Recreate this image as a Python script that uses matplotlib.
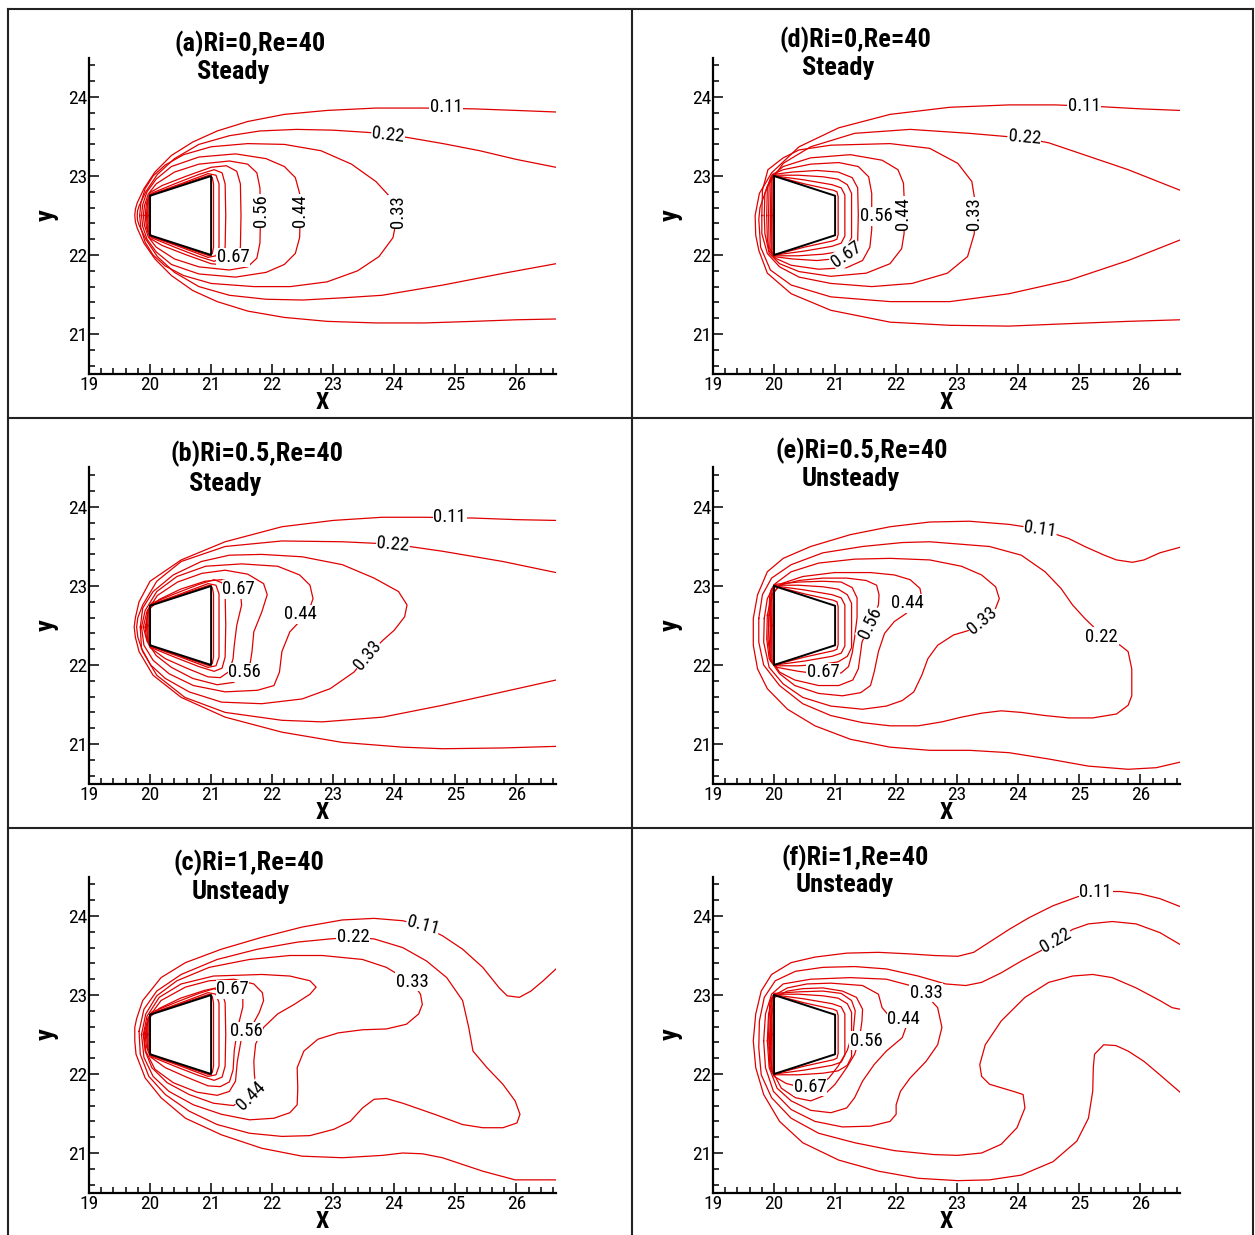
"""Six-panel isotherm comparison (Ri = 0, 0.5, 1 at Re = 40) for two body orientations."""

import matplotlib

matplotlib.use("Agg")
import matplotlib.pyplot as plt
from matplotlib import font_manager as fm
from matplotlib.lines import Line2D
from matplotlib.ticker import MultipleLocator

# prefer a narrow sans if one is installed (the original uses a condensed face)
_installed = {f.name for f in fm.fontManager.ttflist}
_narrow = [n for n in ("Liberation Sans Narrow", "Arial Narrow", "Roboto Condensed") if n in _installed]
plt.rcParams["font.family"] = _narrow + ["Liberation Sans", "DejaVu Sans"]
NARROW = bool(_narrow)

RED = "#e00000"
LABEL_SIZE = 13.5 if NARROW else 12.5
TICK_SIZE = 14 if NARROW else 13
TITLE_SIZE = 19 if NARROW else 17

# ─── body outlines ───────────────────────────────────────────────────────────
BODY_L_X = [20.0, 21.0, 21.0, 20.0, 20.0]      # narrow face upstream (a, b, c)
BODY_L_Y = [22.75, 23.0, 22.0, 22.25, 22.75]
BODY_R_X = [20.0, 21.0, 21.0, 20.0, 20.0]      # wide face upstream (d, e, f)
BODY_R_Y = [23.0, 22.75, 22.25, 22.0, 23.0]

# ─── innermost isotherms hugging the body (shared within a column) ──────────
LEFT_INNER = [
    [(19.94, 22.5), (19.96, 22.68), (20.02, 22.78), (20.4, 22.9), (20.8, 23.02), (21.05, 23.08),
     (21.18, 23.04), (21.23, 22.9), (21.24, 22.5), (21.23, 22.1), (21.18, 21.96), (21.05, 21.92),
     (20.8, 21.98), (20.4, 22.1), (20.02, 22.22), (19.96, 22.32), (19.94, 22.5)],
    [(19.96, 22.5), (19.97, 22.7), (20.03, 22.77), (20.5, 22.9), (20.95, 23.03), (21.08, 23.01),
     (21.13, 22.9), (21.13, 22.1), (21.08, 21.99), (20.95, 21.97), (20.5, 22.1), (20.03, 22.23),
     (19.97, 22.3), (19.96, 22.5)],
    [(19.98, 22.5), (19.985, 22.72), (20.03, 22.765), (20.5, 22.89), (20.97, 23.01), (21.02, 22.98),
     (21.04, 22.9), (21.04, 22.1), (21.02, 22.02), (20.97, 21.99), (20.5, 22.11), (20.03, 22.235),
     (19.985, 22.28), (19.98, 22.5)],
]
RIGHT_INNER = [
    [(19.94, 22.5), (19.95, 22.95), (20.01, 23.01), (20.4, 23.01), (20.8, 22.99), (21.05, 22.96),
     (21.2, 22.89), (21.27, 22.78), (21.27, 22.22), (21.2, 22.11), (21.05, 22.04), (20.8, 22.01),
     (20.4, 21.99), (20.01, 21.99), (19.95, 22.05), (19.94, 22.5)],
    [(19.96, 22.5), (19.965, 22.97), (20.02, 23.0), (20.5, 22.95), (20.95, 22.89), (21.1, 22.85),
     (21.16, 22.76), (21.16, 22.24), (21.1, 22.15), (20.95, 22.11), (20.5, 22.05), (20.02, 22.0),
     (19.965, 22.03), (19.96, 22.5)],
    [(19.98, 22.5), (19.985, 22.98), (20.03, 22.995), (20.5, 22.9), (20.97, 22.82), (21.03, 22.8),
     (21.05, 22.74), (21.05, 22.26), (21.03, 22.2), (20.97, 22.18), (20.5, 22.1), (20.03, 22.005),
     (19.985, 22.02), (19.98, 22.5)],
]

# ─── (a) Ri=0 ────────────────────────────────────────────────────────────────
A_LINES = [
    [(26.65, 23.81), (26.0, 23.83), (25.3, 23.85), (24.5, 23.86), (23.7, 23.86), (22.9, 23.83),
     (22.2, 23.78), (21.6, 23.69), (21.1, 23.57), (20.7, 23.43), (20.35, 23.26), (20.08, 23.05),
     (19.9, 22.84), (19.79, 22.66), (19.76, 22.58), (19.75, 22.5), (19.76, 22.42), (19.79, 22.34),
     (19.9, 22.15), (20.08, 21.95), (20.35, 21.74), (20.7, 21.55), (21.1, 21.41), (21.6, 21.29),
     (22.2, 21.21), (22.9, 21.16), (23.7, 21.14), (24.5, 21.14), (25.3, 21.16), (26.0, 21.18),
     (26.65, 21.19)],
    [(26.65, 23.11), (26.0, 23.21), (25.4, 23.32), (24.8, 23.41), (24.2, 23.49), (23.6, 23.55),
     (23.0, 23.58), (22.4, 23.59), (21.8, 23.57), (21.3, 23.51), (20.8, 23.40), (20.4, 23.22),
     (20.12, 23.02), (19.93, 22.8), (19.82, 22.62), (19.795, 22.56), (19.79, 22.5), (19.795, 22.44),
     (19.82, 22.38), (19.93, 22.2), (20.12, 21.98), (20.4, 21.78), (20.8, 21.6), (21.3, 21.49),
     (21.9, 21.44), (22.5, 21.43), (23.2, 21.46), (23.8, 21.49), (24.8, 21.62), (25.8, 21.77),
     (26.65, 21.89)],
    [(19.83, 22.50), (19.85, 22.66), (19.92, 22.84), (20.05, 23.0), (20.25, 23.14), (20.55, 23.27),
     (21.0, 23.37), (21.6, 23.41), (22.2, 23.40), (22.8, 23.32), (23.3, 23.15), (23.7, 22.93),
     (23.95, 22.72), (24.05, 22.50), (23.98, 22.22), (23.75, 21.98), (23.4, 21.8), (22.9, 21.66),
     (22.3, 21.6), (21.7, 21.6), (21.0, 21.64), (20.55, 21.74), (20.25, 21.86), (20.05, 22.0),
     (19.92, 22.16), (19.85, 22.34), (19.83, 22.50)],
    [(19.86, 22.50), (19.88, 22.64), (19.95, 22.80), (20.1, 22.96), (20.35, 23.12), (20.8, 23.24),
     (21.4, 23.28), (21.9, 23.22), (22.2, 23.12), (22.38, 22.98), (22.45, 22.78), (22.46, 22.50),
     (22.45, 22.22), (22.38, 22.02), (22.2, 21.88), (21.9, 21.78), (21.4, 21.72), (20.8, 21.76),
     (20.35, 21.88), (20.1, 22.04), (19.95, 22.20), (19.88, 22.36), (19.86, 22.50)],
    [(19.89, 22.50), (19.91, 22.63), (19.97, 22.77), (20.1, 22.9), (20.4, 23.05), (20.8, 23.15),
     (21.3, 23.19), (21.6, 23.15), (21.75, 23.04), (21.80, 22.85), (21.81, 22.50), (21.80, 22.15),
     (21.75, 21.96), (21.6, 21.85), (21.3, 21.81), (20.8, 21.85), (20.4, 21.95), (20.1, 22.1),
     (19.97, 22.23), (19.91, 22.37), (19.89, 22.50)],
    [(19.92, 22.50), (19.94, 22.65), (20.0, 22.79), (20.2, 22.88), (20.6, 23.0), (21.0, 23.11),
     (21.25, 23.13), (21.42, 23.06), (21.48, 22.9), (21.49, 22.5), (21.48, 22.1), (21.42, 21.94),
     (21.25, 21.87), (21.0, 21.89), (20.6, 22.0), (20.2, 22.12), (20.0, 22.21), (19.94, 22.35),
     (19.92, 22.50)],
]
A_LABELS = [("0.11", 24.85, 23.87, 0), ("0.22", 23.9, 23.52, -7), ("0.33", 24.06, 22.55, 90),
            ("0.44", 22.46, 22.56, 90), ("0.56", 21.81, 22.56, 90), ("0.67", 21.36, 21.97, 0)]

# ─── (b) Ri=0.5 ──────────────────────────────────────────────────────────────
B_LINES = [
    [(26.65, 23.83), (26.0, 23.84), (25.3, 23.86), (24.5, 23.87), (23.8, 23.87), (23.0, 23.83),
     (22.16, 23.75), (21.23, 23.56), (20.51, 23.33), (20.0, 23.06), (19.82, 22.80), (19.76, 22.6),
     (19.74, 22.48), (19.76, 22.35), (19.82, 22.17), (20.05, 21.87), (20.51, 21.59), (21.23, 21.34),
     (22.16, 21.15), (23.15, 21.02), (24.14, 20.96), (24.79, 20.94), (25.78, 20.95), (26.65, 20.97)],
    [(26.65, 23.17), (25.78, 23.31), (24.79, 23.44), (23.98, 23.53), (23.15, 23.56), (22.16, 23.57),
     (21.23, 23.50), (20.51, 23.31), (20.11, 23.06), (19.88, 22.76), (19.80, 22.6), (19.78, 22.48),
     (19.80, 22.35), (19.88, 22.17), (20.11, 21.87), (20.57, 21.59), (21.23, 21.40), (22.16, 21.30),
     (22.82, 21.28), (23.81, 21.34), (24.79, 21.49), (25.78, 21.66), (26.65, 21.81)],
    [(19.84, 22.48), (19.88, 22.72), (20.05, 22.93), (20.38, 23.14), (20.84, 23.31), (21.30, 23.39),
     (21.83, 23.40), (22.49, 23.37), (23.15, 23.27), (23.67, 23.10), (24.07, 22.93), (24.21, 22.76),
     (24.17, 22.61), (24.0, 22.44), (23.81, 22.31), (23.57, 22.12), (23.34, 21.91), (22.95, 21.70),
     (22.49, 21.57), (21.83, 21.51), (21.17, 21.53), (20.64, 21.66), (20.25, 21.83), (20.01, 22.0),
     (19.86, 22.21), (19.84, 22.48)],
    [(19.86, 22.48), (19.92, 22.69), (20.11, 22.93), (20.44, 23.12), (20.91, 23.25), (21.5, 23.28),
     (22.09, 23.25), (22.45, 23.14), (22.62, 23.01), (22.67, 22.84), (22.6, 22.68), (22.45, 22.55),
     (22.29, 22.42), (22.16, 22.17), (22.12, 21.91), (22.03, 21.74), (21.76, 21.68), (21.23, 21.66),
     (20.71, 21.74), (20.31, 21.89), (20.05, 22.06), (19.90, 22.25), (19.86, 22.48)],
    [(19.89, 22.48), (19.95, 22.68), (20.12, 22.88), (20.45, 23.05), (20.85, 23.16), (21.23, 23.20),
     (21.6, 23.15), (21.86, 23.03), (21.92, 22.89), (21.83, 22.67), (21.70, 22.42), (21.67, 22.17),
     (21.64, 22.02), (21.55, 21.88), (21.37, 21.78), (21.1, 21.75), (20.7, 21.83), (20.35, 21.97),
     (20.1, 22.12), (19.95, 22.3), (19.89, 22.48)],
    [(19.92, 22.48), (19.98, 22.7), (20.15, 22.83), (20.5, 22.96), (20.9, 23.06), (21.17, 23.08),
     (21.35, 23.05), (21.48, 22.92), (21.50, 22.76), (21.42, 22.5), (21.38, 22.25), (21.36, 22.08),
     (21.3, 21.92), (21.15, 21.84), (20.95, 21.85), (20.6, 21.96), (20.25, 22.08), (20.0, 22.22),
     (19.94, 22.35), (19.92, 22.48)],
]
B_LABELS = [("0.11", 24.91, 23.87, 0), ("0.22", 23.98, 23.53, -5), ("0.33", 23.57, 22.12, 50),
            ("0.44", 22.47, 22.64, 0), ("0.56", 21.55, 21.91, 0), ("0.67", 21.45, 22.96, 0)]

# ─── (c) Ri=1 ────────────────────────────────────────────────────────────────
C_LINES = [
    [(26.65, 23.33), (26.44, 23.18), (26.24, 23.05), (26.05, 22.97), (25.85, 22.99), (25.72, 23.09),
     (25.45, 23.35), (25.12, 23.58), (24.79, 23.75), (24.46, 23.88), (24.14, 23.94), (23.67, 23.97),
     (23.15, 23.95), (22.49, 23.86), (21.83, 23.73), (21.17, 23.58), (20.58, 23.41), (20.18, 23.22),
     (19.88, 22.93), (19.78, 22.7), (19.75, 22.59), (19.75, 22.42), (19.77, 22.25), (19.92, 21.95),
     (20.18, 21.70), (20.58, 21.44), (21.17, 21.23), (21.83, 21.06), (22.49, 20.96), (23.15, 20.94),
     (23.81, 20.97), (24.14, 21.0), (24.46, 20.99), (24.79, 20.94), (25.45, 20.77), (25.98, 20.66),
     (26.65, 20.66)],
    [(19.82, 22.54), (19.90, 22.82), (20.11, 23.05), (20.51, 23.26), (21.10, 23.45), (21.76, 23.58),
     (22.42, 23.67), (22.95, 23.71), (23.33, 23.73), (23.67, 23.71), (24.14, 23.60), (24.53, 23.43),
     (24.86, 23.22), (25.12, 22.93), (25.22, 22.59), (25.29, 22.29), (25.52, 22.08), (25.78, 21.87),
     (25.98, 21.66), (26.06, 21.49), (26.01, 21.38), (25.78, 21.32), (25.45, 21.32), (25.12, 21.36),
     (24.66, 21.49), (24.14, 21.63), (23.87, 21.69), (23.67, 21.68), (23.48, 21.57), (23.28, 21.40),
     (23.01, 21.30), (22.62, 21.22), (22.16, 21.21), (21.63, 21.25), (21.10, 21.36), (20.64, 21.53),
     (20.25, 21.74), (19.98, 21.97), (19.84, 22.25), (19.82, 22.54)],
    [(19.86, 22.50), (19.93, 22.76), (20.11, 22.99), (20.44, 23.18), (20.97, 23.35), (21.63, 23.45),
     (22.29, 23.50), (22.82, 23.50), (23.48, 23.45), (23.87, 23.35), (24.15, 23.22), (24.35, 23.10),
     (24.43, 23.01), (24.46, 22.88), (24.40, 22.76), (24.20, 22.63), (23.87, 22.57), (23.48, 22.56),
     (23.08, 22.52), (22.75, 22.44), (22.52, 22.29), (22.41, 22.08), (22.42, 21.82), (22.41, 21.61),
     (22.29, 21.51), (22.03, 21.44), (21.63, 21.42), (21.17, 21.49), (20.71, 21.61), (20.31, 21.78),
     (20.05, 21.97), (19.90, 22.21), (19.86, 22.50)],
    [(19.89, 22.50), (19.95, 22.73), (20.15, 22.97), (20.51, 23.14), (21.04, 23.24), (21.83, 23.26),
     (22.29, 23.24), (22.62, 23.18), (22.72, 23.10), (22.62, 23.01), (22.36, 22.88), (22.09, 22.76),
     (21.86, 22.59), (21.73, 22.38), (21.70, 22.16), (21.71, 21.99), (21.73, 21.87), (21.55, 21.72),
     (21.37, 21.60), (21.04, 21.63), (20.64, 21.74), (20.28, 21.89), (20.03, 22.08), (19.92, 22.29),
     (19.89, 22.50)],
    [(19.90, 22.50), (19.97, 22.71), (20.18, 22.93), (20.58, 23.10), (20.97, 23.18), (21.37, 23.20),
     (21.70, 23.14), (21.84, 23.03), (21.86, 22.93), (21.79, 22.78), (21.70, 22.65), (21.49, 22.42),
     (21.43, 22.16), (21.40, 21.91), (21.30, 21.78), (21.10, 21.73), (20.77, 21.77), (20.38, 21.89),
     (20.08, 22.06), (19.93, 22.29), (19.90, 22.50)],
    [(19.92, 22.5), (19.97, 22.7), (20.15, 22.83), (20.5, 22.96), (20.9, 23.06), (21.15, 23.1),
     (21.4, 23.08), (21.52, 23.0), (21.52, 22.85), (21.44, 22.6), (21.38, 22.3), (21.36, 22.05),
     (21.3, 21.9), (21.15, 21.84), (20.95, 21.85), (20.6, 21.96), (20.25, 22.08), (20.0, 22.22),
     (19.94, 22.35), (19.92, 22.5)],
]
C_LABELS = [("0.11", 24.47, 23.88, -15), ("0.22", 23.33, 23.73, 0), ("0.33", 24.29, 23.17, 0),
            ("0.44", 21.66, 21.72, 45), ("0.56", 21.58, 22.54, 0), ("0.67", 21.35, 23.07, 0)]

# ─── (d) Ri=0 ────────────────────────────────────────────────────────────────
D_LINES = [
    [(26.65, 23.83), (26.0, 23.85), (25.3, 23.88), (24.6, 23.90), (23.85, 23.90), (22.88, 23.87),
     (21.9, 23.78), (21.06, 23.61), (20.41, 23.37), (19.96, 23.04), (19.76, 22.78), (19.69, 22.5),
     (19.70, 22.25), (19.75, 22.06), (19.89, 21.77), (20.28, 21.51), (20.93, 21.30), (21.9, 21.15),
     (22.88, 21.11), (23.85, 21.10), (24.8, 21.13), (25.8, 21.16), (26.65, 21.18)],
    [(26.65, 22.82), (25.8, 23.08), (25.15, 23.25), (24.5, 23.42), (24.1, 23.48), (23.2, 23.54),
     (22.23, 23.59), (21.32, 23.54), (20.6, 23.37), (20.15, 23.16), (19.89, 22.87), (19.77, 22.6),
     (19.75, 22.45), (19.78, 22.10), (19.94, 21.81), (20.28, 21.62), (20.93, 21.47), (21.9, 21.41),
     (22.88, 21.41), (23.85, 21.51), (24.83, 21.68), (25.8, 21.93), (26.65, 22.19)],
    [(19.80, 22.5), (19.81, 22.82), (19.9, 23.08), (20.15, 23.23), (20.41, 23.33), (20.93, 23.39),
     (21.9, 23.41), (22.55, 23.35), (23.01, 23.16), (23.24, 22.93), (23.28, 22.74), (23.28, 22.27),
     (23.17, 21.98), (22.84, 21.77), (22.26, 21.64), (21.6, 21.60), (20.93, 21.64), (20.41, 21.72),
     (20.09, 21.85), (19.89, 22.02), (19.80, 22.27), (19.80, 22.5)],
    [(19.84, 22.5), (19.85, 22.78), (19.95, 22.99), (20.15, 23.12), (20.6, 23.23), (21.25, 23.27),
     (21.77, 23.20), (22.03, 23.08), (22.12, 22.91), (22.13, 22.74), (22.13, 22.27), (22.09, 22.08),
     (21.9, 21.89), (21.51, 21.77), (20.93, 21.73), (20.41, 21.79), (20.09, 21.89), (19.92, 22.02),
     (19.85, 22.27), (19.84, 22.5)],
    [(19.88, 22.5), (19.89, 22.85), (19.97, 23.02), (20.15, 23.08), (20.6, 23.15), (21.06, 23.17),
     (21.38, 23.12), (21.55, 22.99), (21.60, 22.78), (21.60, 22.32), (21.57, 22.10), (21.45, 21.93),
     (21.19, 21.84), (20.73, 21.82), (20.28, 21.87), (20.02, 21.96), (19.92, 22.05), (19.89, 22.2),
     (19.88, 22.5)],
    [(19.91, 22.5), (19.92, 22.9), (19.99, 23.02), (20.3, 23.05), (20.7, 23.07), (21.05, 23.05),
     (21.28, 22.98), (21.37, 22.85), (21.38, 22.5), (21.37, 22.18), (21.3, 22.05), (21.1, 21.96),
     (20.7, 21.93), (20.3, 21.95), (19.99, 21.98), (19.92, 22.1), (19.91, 22.5)],
]
D_LABELS = [("0.11", 25.08, 23.89, 0), ("0.22", 24.1, 23.49, -5), ("0.33", 23.28, 22.52, 90),
            ("0.44", 22.12, 22.53, 90), ("0.56", 21.68, 22.49, 0), ("0.67", 21.19, 22.0, 35)]

# ─── (e) Ri=0.5 ──────────────────────────────────────────────────────────────
E_LINES = [
    [(26.65, 23.49), (26.32, 23.42), (26.06, 23.33), (25.87, 23.30), (25.61, 23.33), (25.41, 23.39),
     (25.09, 23.50), (24.83, 23.60), (24.36, 23.72), (23.85, 23.78), (23.2, 23.82), (22.55, 23.81),
     (21.9, 23.75), (21.25, 23.65), (20.6, 23.5), (20.15, 23.35), (19.89, 23.18), (19.73, 22.89),
     (19.66, 22.59), (19.66, 22.25), (19.73, 21.95), (19.89, 21.70), (20.22, 21.44), (20.67, 21.23),
     (21.25, 21.06), (21.9, 20.96), (22.55, 20.92), (23.2, 20.92), (23.85, 20.89), (24.5, 20.81),
     (25.15, 20.72), (25.8, 20.68), (26.26, 20.70), (26.65, 20.77)],
    [(19.75, 22.59), (19.81, 22.89), (19.96, 23.10), (20.28, 23.27), (20.80, 23.42), (21.45, 23.50),
     (22.10, 23.55), (22.55, 23.56), (23.53, 23.50), (24.05, 23.39), (24.44, 23.18), (24.70, 22.97),
     (24.89, 22.76), (25.09, 22.59), (25.37, 22.38), (25.67, 22.25), (25.80, 22.17), (25.86, 21.95),
     (25.86, 21.61), (25.80, 21.49), (25.61, 21.38), (25.22, 21.33), (24.83, 21.33), (24.44, 21.36),
     (24.05, 21.40), (23.72, 21.42), (23.40, 21.39), (23.07, 21.34), (22.75, 21.28), (22.36, 21.23),
     (21.9, 21.23), (21.45, 21.27), (20.93, 21.36), (20.47, 21.51), (20.09, 21.74), (19.83, 22.0),
     (19.75, 22.29), (19.75, 22.59)],
    [(19.84, 22.59), (19.89, 22.84), (20.02, 23.03), (20.28, 23.18), (20.73, 23.29), (21.32, 23.34),
     (21.9, 23.35), (22.55, 23.33), (23.07, 23.25), (23.40, 23.14), (23.63, 22.99), (23.69, 22.84),
     (23.63, 22.72), (23.43, 22.56), (23.2, 22.44), (22.94, 22.38), (22.68, 22.25), (22.52, 22.08),
     (22.42, 21.87), (22.29, 21.66), (22.1, 21.55), (21.84, 21.48), (21.45, 21.44), (20.93, 21.48),
     (20.47, 21.59), (20.15, 21.76), (19.92, 21.97), (19.83, 22.29), (19.84, 22.59)],
    [(19.89, 22.63), (19.96, 22.89), (20.12, 23.03), (20.47, 23.12), (20.99, 23.17), (21.58, 23.17),
     (21.97, 23.14), (22.23, 23.08), (22.39, 22.97), (22.41, 22.89), (22.30, 22.76), (22.16, 22.65),
     (21.97, 22.55), (21.81, 22.40), (21.71, 22.17), (21.64, 21.91), (21.58, 21.74), (21.42, 21.65),
     (21.12, 21.61), (20.73, 21.64), (20.34, 21.74), (20.09, 21.89), (19.92, 22.08), (19.88, 22.33),
     (19.89, 22.63)],
    [(19.92, 22.63), (19.97, 22.89), (20.09, 23.01), (20.41, 23.07), (20.80, 23.10), (21.19, 23.10),
     (21.51, 23.07), (21.68, 23.01), (21.72, 22.89), (21.71, 22.76), (21.58, 22.53), (21.44, 22.29),
     (21.42, 22.17), (21.38, 21.95), (21.29, 21.81), (21.06, 21.74), (20.73, 21.74), (20.34, 21.81),
     (20.09, 21.91), (19.94, 22.08), (19.90, 22.33), (19.92, 22.63)],
    [(19.91, 22.5), (19.93, 22.9), (20.0, 23.02), (20.4, 23.05), (20.8, 23.06), (21.1, 23.05),
     (21.28, 22.98), (21.36, 22.85), (21.36, 22.6), (21.32, 22.35), (21.28, 22.15), (21.22, 21.98),
     (21.1, 21.9), (20.8, 21.88), (20.4, 21.92), (20.05, 21.97), (19.94, 22.05), (19.91, 22.5)],
]
E_LABELS = [("0.11", 24.36, 23.72, -8), ("0.22", 25.37, 22.36, 0), ("0.33", 23.42, 22.56, 40),
            ("0.44", 22.18, 22.78, 0), ("0.56", 21.58, 22.53, 65), ("0.67", 20.80, 21.91, 0)]

# ─── (f) Ri=1 ────────────────────────────────────────────────────────────────
F_LINES = [
    [(26.65, 24.12), (26.32, 24.22), (26.0, 24.28), (25.67, 24.31), (25.27, 24.31), (24.96, 24.24),
     (24.57, 24.13), (24.18, 23.98), (23.85, 23.83), (23.53, 23.67), (23.27, 23.54), (23.01, 23.49),
     (22.62, 23.50), (22.23, 23.52), (21.71, 23.54), (21.19, 23.53), (20.67, 23.48), (20.28, 23.41),
     (19.96, 23.26), (19.79, 23.05), (19.70, 22.76), (19.66, 22.42), (19.70, 22.08), (19.83, 21.74),
     (20.09, 21.40), (20.47, 21.13), (21.06, 20.91), (21.71, 20.77), (22.36, 20.68), (23.01, 20.65),
     (23.53, 20.66), (24.05, 20.72), (24.57, 20.89), (24.96, 21.15), (25.15, 21.44), (25.22, 21.78),
     (25.23, 22.08), (25.25, 22.25), (25.40, 22.37), (25.60, 22.36), (25.80, 22.29), (26.06, 22.16),
     (26.32, 21.99), (26.65, 21.77)],
    [(26.65, 23.64), (26.32, 23.79), (25.93, 23.90), (25.54, 23.93), (25.15, 23.90), (24.89, 23.83),
     (24.62, 23.69), (24.37, 23.56), (24.05, 23.43), (23.72, 23.28), (23.40, 23.16), (23.14, 23.12),
     (22.81, 23.14), (22.36, 23.24), (21.84, 23.33), (21.32, 23.36), (20.80, 23.35), (20.35, 23.30),
     (20.02, 23.18), (19.84, 22.97), (19.76, 22.67), (19.75, 22.33), (19.79, 21.99), (19.96, 21.70),
     (20.28, 21.44), (20.73, 21.25), (21.32, 21.13), (21.97, 21.03), (22.62, 20.98), (23.01, 20.97),
     (23.40, 21.0), (23.72, 21.11), (23.98, 21.32), (24.11, 21.57), (24.08, 21.74), (23.92, 21.78),
     (23.53, 21.87), (23.40, 21.97), (23.37, 22.12), (23.46, 22.37), (23.72, 22.67), (24.11, 22.97),
     (24.50, 23.16), (24.89, 23.24), (25.22, 23.26), (25.54, 23.22), (25.93, 23.09), (26.32, 22.93),
     (26.52, 22.84), (26.65, 22.82)],
    [(19.83, 22.42), (19.86, 22.76), (19.96, 23.01), (20.15, 23.14), (20.60, 23.20), (21.25, 23.22),
     (21.84, 23.20), (22.23, 23.12), (22.49, 23.0), (22.68, 22.84), (22.75, 22.59), (22.68, 22.37),
     (22.49, 22.16), (22.23, 21.95), (22.07, 21.78), (22.0, 21.61), (22.0, 21.49), (21.90, 21.40),
     (21.58, 21.34), (21.12, 21.33), (20.67, 21.40), (20.28, 21.55), (19.99, 21.78), (19.86, 22.08),
     (19.83, 22.42)],
    [(19.89, 22.42), (19.91, 22.76), (19.99, 22.99), (20.22, 23.09), (20.54, 23.14), (20.93, 23.15),
     (21.45, 23.12), (21.71, 23.01), (21.77, 22.84), (21.90, 22.72), (22.12, 22.66), (22.16, 22.59),
     (22.10, 22.46), (21.84, 22.29), (21.64, 22.12), (21.45, 21.91), (21.32, 21.70), (21.19, 21.57),
     (20.93, 21.51), (20.60, 21.54), (20.28, 21.66), (20.05, 21.82), (19.92, 22.08), (19.89, 22.42)],
    [(19.92, 22.33), (19.94, 22.67), (20.01, 22.97), (20.22, 23.05), (20.47, 23.08), (20.80, 23.09),
     (21.12, 23.05), (21.35, 22.97), (21.45, 22.82), (21.44, 22.67), (21.40, 22.45), (21.32, 22.25),
     (21.19, 22.08), (21.0, 21.87), (20.80, 21.72), (20.60, 21.66), (20.35, 21.70), (20.12, 21.82),
     (19.97, 22.04), (19.92, 22.33)],
    [(19.91, 22.5), (19.93, 22.9), (20.0, 23.02), (20.4, 23.04), (20.8, 23.05), (21.1, 23.02),
     (21.27, 22.93), (21.33, 22.8), (21.3, 22.55), (21.2, 22.3), (21.05, 22.1), (20.9, 21.95),
     (20.75, 21.86), (20.5, 21.82), (20.2, 21.88), (20.0, 21.97), (19.93, 22.1), (19.91, 22.5)],
]
F_LABELS = [("0.11", 25.27, 24.31, 0), ("0.22", 24.62, 23.69, 30), ("0.33", 22.49, 23.03, 0),
            ("0.44", 22.12, 22.70, 0), ("0.56", 21.51, 22.42, 0), ("0.67", 20.59, 21.84, 0)]

TITLES = ["(a)Ri=0,Re=40", "(b)Ri=0.5,Re=40", "(c)Ri=1,Re=40",
          "(d)Ri=0,Re=40", "(e)Ri=0.5,Re=40", "(f)Ri=1,Re=40"]
STATES = ["Steady", "Steady", "Unsteady", "Steady", "Unsteady", "Unsteady"]

X_TICKS = [19, 20, 21, 22, 23, 24, 25, 26]
Y_TICKS = [21, 22, 23, 24]

# title anchor points (data coords) for line 1 and line 2 of each panel
TITLE_POS = [((21.64, 24.67), (21.36, 24.32)), ((21.75, 24.67), (21.23, 24.29)),
             ((21.62, 24.67), (21.49, 24.31)), ((21.33, 24.72), (21.05, 24.37)),
             ((21.44, 24.71), (21.25, 24.35)), ((21.33, 24.73), (21.15, 24.39))]


def draw_panel(ax, lines, labels, body_x, body_y, title, state, tpos):
    for pts in lines:
        xs, ys = zip(*pts)
        ax.plot(xs, ys, color=RED, lw=0.9, solid_joinstyle="round", zorder=2)
    ax.plot(body_x, body_y, color="black", lw=1.4, zorder=3)
    for text, x, y, rot in labels:
        ax.text(x, y, text, rotation=rot, rotation_mode="anchor", ha="center", va="center",
                fontsize=LABEL_SIZE, zorder=5,
                bbox=dict(facecolor="white", edgecolor="none", pad=0.4))

    ax.set_xlim(19, 26.65)
    ax.set_ylim(20.5, 24.5)
    ax.set_xticks(X_TICKS)
    ax.set_yticks(Y_TICKS)
    ax.xaxis.set_minor_locator(MultipleLocator(0.2))
    ax.yaxis.set_minor_locator(MultipleLocator(0.2))
    for s in ("top", "right"):
        ax.spines[s].set_visible(False)
    for s in ("left", "bottom"):
        ax.spines[s].set_linewidth(1.6)
    ax.tick_params(which="both", direction="in", width=1.1)
    ax.tick_params(which="major", length=7, labelsize=TICK_SIZE, pad=1.5)
    ax.tick_params(which="minor", length=4)

    (t1x, t1y), (t2x, t2y) = tpos
    ax.text(t1x, t1y, title, ha="center", va="center", fontsize=TITLE_SIZE, fontweight="bold",
            clip_on=False)
    ax.text(t2x, t2y, state, ha="center", va="center", fontsize=TITLE_SIZE, fontweight="bold",
            clip_on=False)
    ax.text(18.31, 22.5, "y", rotation=90, ha="center", va="center", fontsize=TITLE_SIZE,
            fontweight="bold", clip_on=False)
    ax.text(22.82, 20.05, "X", ha="center", va="baseline", fontsize=TITLE_SIZE - 2,
            fontweight="bold", clip_on=False)


fig = plt.figure(figsize=(12.55, 12.35), dpi=100)
W, H = 1255, 1235
col_left = [89 / W, 713 / W]
ax_w = 467 / W
ax_h = 316 / H
row_bottom = [1 - 373.5 / H, 1 - 783.5 / H, 1 - 1192.5 / H]

panels = [
    (A_LINES + LEFT_INNER, A_LABELS, BODY_L_X, BODY_L_Y),
    (B_LINES + LEFT_INNER, B_LABELS, BODY_L_X, BODY_L_Y),
    (C_LINES + LEFT_INNER, C_LABELS, BODY_L_X, BODY_L_Y),
    (D_LINES + RIGHT_INNER, D_LABELS, BODY_R_X, BODY_R_Y),
    (E_LINES + RIGHT_INNER, E_LABELS, BODY_R_X, BODY_R_Y),
    (F_LINES + RIGHT_INNER, F_LABELS, BODY_R_X, BODY_R_Y),
]

for i, (lines, labels, bx, by) in enumerate(panels):
    col, row = divmod(i, 3)
    ax = fig.add_axes([col_left[col], row_bottom[row], ax_w, ax_h])
    draw_panel(ax, lines, labels, bx, by, TITLES[i], STATES[i], TITLE_POS[i])

# panel frame lines
frame = dict(transform=fig.transFigure, color="#222222", lw=1.5)
top_y = 1 - 9 / H
left_x, right_x = 8 / W, 1253 / W
fig.add_artist(Line2D([left_x, right_x], [top_y, top_y], **frame))
fig.add_artist(Line2D([left_x, left_x], [0, top_y], **frame))
fig.add_artist(Line2D([right_x, right_x], [0, top_y], **frame))
fig.add_artist(Line2D([632 / W, 632 / W], [0, top_y], **frame))
for py in (418, 828):
    fig.add_artist(Line2D([left_x, right_x], [1 - py / H, 1 - py / H], **frame))

fig.savefig("out.png", dpi=100, facecolor="white")
